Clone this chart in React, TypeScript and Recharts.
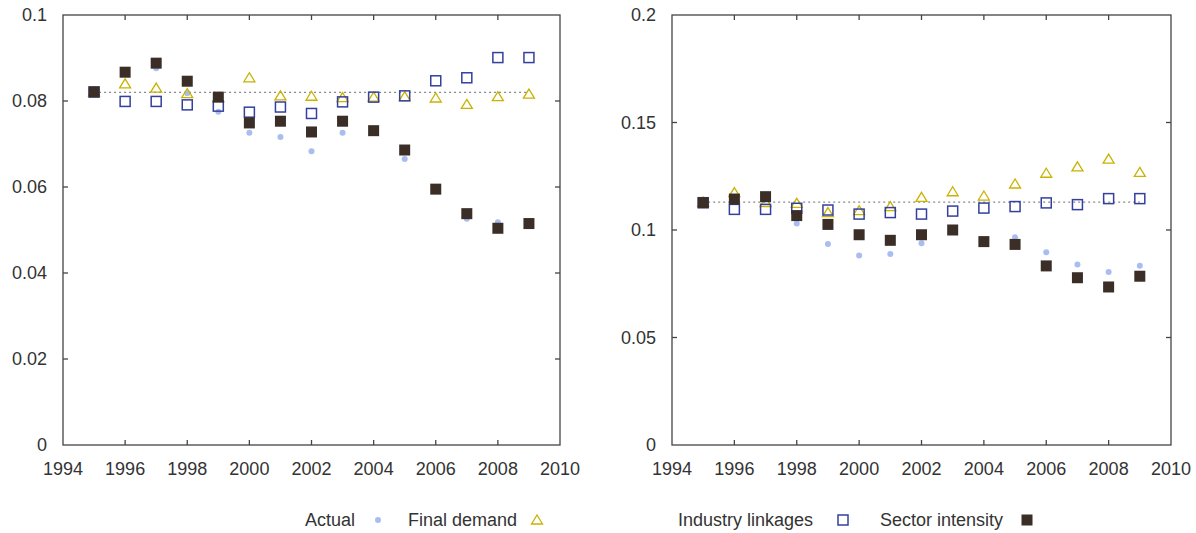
import React from "react";
import { ScatterChart, Scatter, XAxis, YAxis, ReferenceLine } from "recharts";

const YEARS = [1995, 1996, 1997, 1998, 1999, 2000, 2001, 2002, 2003, 2004, 2005, 2006, 2007, 2008, 2009];
const X_TICKS = [1994, 1996, 1998, 2000, 2002, 2004, 2006, 2008, 2010];

const LEFT_Y_TICKS = [0, 0.02, 0.04, 0.06, 0.08, 0.1];
const LEFT_BASELINE = 0.082;
const LEFT_ACTUAL = [0.0821, 0.0866, 0.0876, 0.0818, 0.0775, 0.0726, 0.0716, 0.0683, 0.0726, 0.0733, 0.0665, 0.0597, 0.0526, 0.0518, 0.0515];
const LEFT_FINAL = [0.0821, 0.084, 0.083, 0.0817, 0.0808, 0.0854, 0.0812, 0.0811, 0.0808, 0.0809, 0.081, 0.0807, 0.0792, 0.081, 0.0816];
const LEFT_LINKAGES = [0.0821, 0.0799, 0.0799, 0.0791, 0.0788, 0.0774, 0.0786, 0.0771, 0.0798, 0.0809, 0.0812, 0.0847, 0.0854, 0.0901, 0.0901];
const LEFT_SECTOR = [0.0821, 0.0867, 0.0888, 0.0846, 0.0809, 0.0749, 0.0753, 0.0728, 0.0753, 0.0731, 0.0686, 0.0595, 0.0538, 0.0504, 0.0515];

const RIGHT_Y_TICKS = [0, 0.05, 0.1, 0.15, 0.2];
const RIGHT_BASELINE = 0.113;
const RIGHT_ACTUAL = [0.1127, 0.115, 0.115, 0.103, 0.0935, 0.0881, 0.0888, 0.0938, 0.0998, 0.0948, 0.0966, 0.0896, 0.084, 0.0805, 0.0834];
const RIGHT_FINAL = [0.113, 0.1174, 0.1128, 0.1124, 0.1081, 0.109, 0.1109, 0.1152, 0.1178, 0.1158, 0.1214, 0.1264, 0.1294, 0.133, 0.1268];
const RIGHT_LINKAGES = [0.1127, 0.1096, 0.1096, 0.1101, 0.1093, 0.1074, 0.1081, 0.1074, 0.1088, 0.1102, 0.1109, 0.1126, 0.1118, 0.1146, 0.1146];
const RIGHT_SECTOR = [0.1127, 0.1144, 0.1155, 0.1067, 0.1026, 0.0978, 0.0952, 0.0978, 0.1, 0.0946, 0.0933, 0.0833, 0.0778, 0.0735, 0.0785];

const FONT = "'Liberation Sans', Arial, sans-serif";
const TEXT = "#333";
const FRAME = "#444";
const ACTUAL_C = "#a9bdf3";
const FINAL_C = "#c9b200";
const LINK_C = "#34409e";
const SECTOR_C = "#3a2e27";
const TICK_LEN = 5;
const CHART_H = 533;
const M_TOP = 15;
const M_BOTTOM = 48;
const X_AXIS_H = 40;

const toPoints = (vals: number[]) => YEARS.map((x, i) => ({ x, y: vals[i] }));

const dot = (p: any) => <circle cx={p.cx} cy={p.cy} r={3} fill={ACTUAL_C} />;
const triangle = (p: any) => (
  <path
    d={`M${p.cx},${p.cy - 5} L${p.cx + 5.5},${p.cy + 4} L${p.cx - 5.5},${p.cy + 4} Z`}
    fill="none"
    stroke={FINAL_C}
    strokeWidth={1.3}
  />
);
const openSquare = (p: any) => (
  <rect x={p.cx - 5} y={p.cy - 5} width={10} height={10} fill="none" stroke={LINK_C} strokeWidth={1.5} />
);
const filledSquare = (p: any) => (
  <rect x={p.cx - 5.5} y={p.cy - 5.5} width={11} height={11} fill={SECTOR_C} />
);

// box round the plot area with inward tick marks on all four sides
function Frame({ l, t, r, b, xN, yN }: { l: number; t: number; r: number; b: number; xN: number; yN: number }) {
  const xs = Array.from({ length: xN - 1 }, (_, k) => l + ((r - l) * (k + 1)) / xN);
  const ys = Array.from({ length: yN - 1 }, (_, k) => t + ((b - t) * (k + 1)) / yN);
  return (
    <g stroke={FRAME} strokeWidth={1.3} fill="none">
      <rect x={l} y={t} width={r - l} height={b - t} />
      {xs.map((x, k) => (
        <g key={`x${k}`}>
          <line x1={x} y1={b} x2={x} y2={b - TICK_LEN} />
          <line x1={x} y1={t} x2={x} y2={t + TICK_LEN} />
        </g>
      ))}
      {ys.map((y, k) => (
        <g key={`y${k}`}>
          <line x1={l} y1={y} x2={l + TICK_LEN} y2={y} />
          <line x1={r} y1={y} x2={r - TICK_LEN} y2={y} />
        </g>
      ))}
    </g>
  );
}

type PanelProps = {
  left: number;
  width: number;
  rightMargin: number;
  yWidth: number;
  yTicks: number[];
  baseline: number;
  actual: number[];
  final: number[];
  linkages: number[];
  sector: number[];
};

function Panel({ left, width, rightMargin, yWidth, yTicks, baseline, actual, final, linkages, sector }: PanelProps) {
  const yMax = yTicks[yTicks.length - 1];
  const tickStyle = { fontSize: 18, fill: TEXT, fontFamily: FONT };
  const xN = X_TICKS.length - 1;
  const yN = yTicks.length - 1;
  return (
    <div style={{ position: "absolute", left, top: 0, width, height: CHART_H }}>
      <ScatterChart width={width} height={CHART_H} margin={{ top: M_TOP, right: rightMargin, left: 0, bottom: M_BOTTOM }}>
        <XAxis
          type="number"
          dataKey="x"
          domain={[X_TICKS[0], X_TICKS[xN]]}
          ticks={X_TICKS}
          tickSize={0}
          tickMargin={17}
          height={X_AXIS_H}
          axisLine={false}
          tickLine={false}
          tick={tickStyle}
        />
        <YAxis
          type="number"
          dataKey="y"
          domain={[0, yMax]}
          ticks={yTicks}
          tickSize={0}
          tickMargin={16}
          width={yWidth}
          axisLine={false}
          tickLine={false}
          tick={tickStyle}
          tickFormatter={(v: number) => String(v)}
        />
        <ReferenceLine
          segment={[
            { x: YEARS[0], y: baseline },
            { x: YEARS[YEARS.length - 1], y: baseline },
          ]}
          stroke="#8a8a8a"
          strokeWidth={1.2}
          strokeDasharray="2 3"
        />
        <Scatter name="Actual" data={toPoints(actual)} shape={dot} isAnimationActive={false} />
        <Scatter name="Final demand" data={toPoints(final)} shape={triangle} isAnimationActive={false} />
        <Scatter name="Industry linkages" data={toPoints(linkages)} shape={openSquare} isAnimationActive={false} />
        <Scatter name="Sector intensity" data={toPoints(sector)} shape={filledSquare} isAnimationActive={false} />
      </ScatterChart>
      <svg
        width={width}
        height={CHART_H}
        style={{ position: "absolute", left: 0, top: 0, pointerEvents: "none" }}
      >
        <Frame
          l={yWidth}
          t={M_TOP}
          r={width - rightMargin}
          b={CHART_H - M_BOTTOM - X_AXIS_H}
          xN={xN}
          yN={yN}
        />
      </svg>
    </div>
  );
}

const LEGEND = [
  { label: "Actual", x: 305, mx: 378, shape: dot },
  { label: "Final demand", x: 408, mx: 537, shape: triangle },
  { label: "Industry linkages", x: 678, mx: 843, shape: openSquare },
  { label: "Sector intensity", x: 880, mx: 1027, shape: filledSquare },
];

export default function App() {
  return (
    <div style={{ position: "absolute", left: 0, top: 0, width: 1196, height: 533, background: "#fff", fontFamily: FONT }}>
      <Panel
        left={0}
        width={580}
        rightMargin={20}
        yWidth={63}
        yTicks={LEFT_Y_TICKS}
        baseline={LEFT_BASELINE}
        actual={LEFT_ACTUAL}
        final={LEFT_FINAL}
        linkages={LEFT_LINKAGES}
        sector={LEFT_SECTOR}
      />
      <Panel
        left={600}
        width={596}
        rightMargin={25}
        yWidth={72}
        yTicks={RIGHT_Y_TICKS}
        baseline={RIGHT_BASELINE}
        actual={RIGHT_ACTUAL}
        final={RIGHT_FINAL}
        linkages={RIGHT_LINKAGES}
        sector={RIGHT_SECTOR}
      />
      {LEGEND.map((item) => (
        <React.Fragment key={item.label}>
          <span style={{ position: "absolute", left: item.x, top: 509, fontSize: 18, lineHeight: "22px", color: TEXT, whiteSpace: "nowrap" }}>
            {item.label}
          </span>
          <svg style={{ position: "absolute", left: item.mx - 8, top: 512 }} width={16} height={16}>
            {item.shape({ cx: 8, cy: 8 })}
          </svg>
        </React.Fragment>
      ))}
    </div>
  );
}
